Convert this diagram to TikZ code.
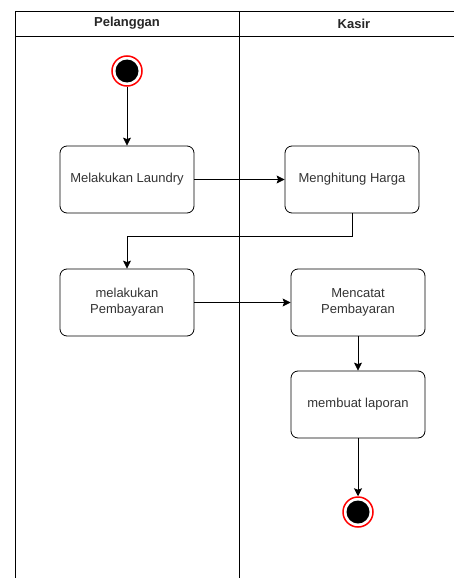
\documentclass[tikz,border=0pt]{standalone}
\usepackage{fontspec}
\setmainfont{Liberation Sans}
\usetikzlibrary{arrows.meta}
\begin{document}
\begin{tikzpicture}[x=1pt,y=-1pt,
  act/.style={draw=black,line width=0.8pt,rounded corners=7pt,minimum width=134pt,minimum height=67pt,align=center,font=\fontsize{13}{16}\selectfont,text=black!80},
  flow/.style={draw=black,line width=0.8pt,-{Stealth[length=8pt,width=8pt,inset=1.5pt]}},
  lane/.style={draw=black,line width=0.9pt},
  hdr/.style={font=\fontsize{13}{16}\selectfont\bfseries,text=black!85},
  ring/.style={circle,draw=red,line width=1.5pt,minimum size=30pt,inner sep=0pt},
  dot/.style={circle,fill=black,minimum size=23pt,inner sep=0pt}]
\useasboundingbox (0,0) rectangle (454,578);
% swimlanes
\draw[lane] (456,11) -- (15,11) -- (15,578);
\draw[lane] (15,36) -- (456,36);
\draw[lane] (239,11) -- (239,578);
\node[hdr] (h1) at (127,23.5) {Pelanggan};
\node[hdr] (h2) at (354,23.5) {Kasir};
% nodes
\node[ring] (s) at (127,71) {};
\node[dot] (sd) at (127,71) {};
\node[act] (a1) at (127,179.5) {Melakukan Laundry};
\node[act] (a2) at (352,179.5) {Menghitung Harga};
\node[act] (a3) at (127,302.5) {melakukan\\Pembayaran};
\node[act] (a4) at (358,302.5) {Mencatat\\Pembayaran};
\node[act] (a5) at (358,404.5) {membuat laporan};
\node[ring] (e) at (358,512) {};
\node[dot] (ed) at (358,512) {};
% connectors
\draw[flow] (s) -- (a1);
\draw[flow] (a1) -- (a2);
\draw[flow] (a2.south) |- (127,236) -- (a3.north);
\draw[flow] (a3) -- (a4);
\draw[flow] (a4) -- (a5);
\draw[flow] (a5) -- (e);
\end{tikzpicture}
\end{document}
